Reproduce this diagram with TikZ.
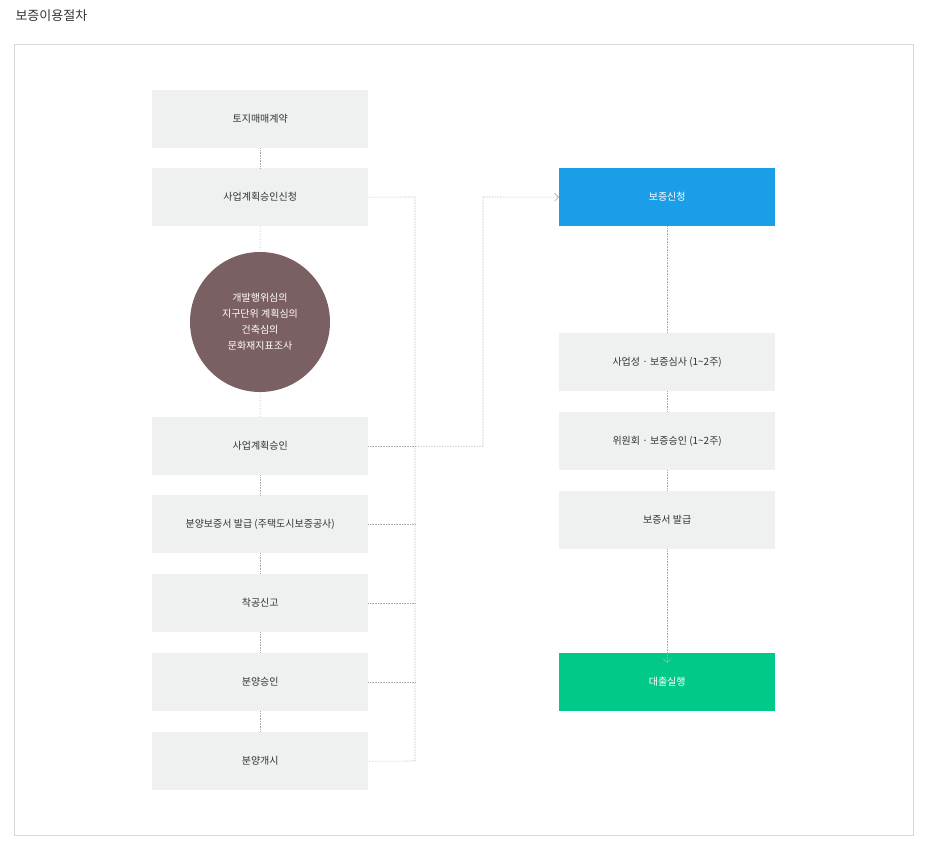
\documentclass[tikz,border=0pt]{standalone}
\usepackage{fontspec}
\setmainfont{Noto Sans CJK KR}
\usetikzlibrary{arrows.meta}
\definecolor{boxg}{HTML}{EFF0F0}
\definecolor{txt}{HTML}{333333}
\definecolor{blu}{HTML}{1A9EE8}
\definecolor{grn}{HTML}{00C98A}
\definecolor{circ}{HTML}{7A5F63}
\definecolor{ln}{HTML}{AAAAAA}
\begin{document}
\begin{tikzpicture}[x=1pt,y=-1pt,
  bx/.style={fill=boxg,minimum width=216pt,minimum height=58pt,inner sep=0pt,text=txt,font=\fontsize{10}{12}\selectfont,anchor=north west},
  dl/.style={draw=ln,densely dotted,line width=0.6pt},
  tip/.style={-{Straight Barb[length=4pt,width=8pt]}}]
\useasboundingbox (0,0) rectangle (940,848);
\node[anchor=west,font=\fontsize{13}{15}\selectfont,text=txt] (title) at (12,16) {보증이용절차};
\draw[draw=black!15,line width=0.8pt] (14,44) rectangle (913,835);
\node[bx] (a1) at (152,90) {토지매매계약};
\node[bx] (a2) at (152,168) {사업계획승인신청};
\node[circle,fill=circ,minimum size=140pt,inner sep=0pt,text=white,align=center,font=\fontsize{10}{16}\selectfont] (c) at (260,322) {개발행위심의\\지구단위 계획심의\\건축심의\\문화재지표조사};
\node[bx] (a3) at (152,417) {사업계획승인};
\node[bx] (a4) at (152,495) {분양보증서 발급 (주택도시보증공사)};
\node[bx] (a5) at (152,574) {착공신고};
\node[bx] (a6) at (152,653) {분양승인};
\node[bx] (a7) at (152,732) {분양개시};
\node[bx,fill=blu,text=white] (b1) at (559,168) {보증신청};
\node[bx] (b2) at (559,333) {사업성 · 보증심사 (1\textasciitilde 2주)};
\node[bx] (b3) at (559,412) {위원회 · 보증승인 (1\textasciitilde 2주)};
\node[bx] (b4) at (559,491) {보증서 발급};
\node[bx,fill=grn,text=white] (b5) at (559,653) {대출실행};
\draw[dl] (a1) -- (a2);
\draw[dl] (a2) -- (c);
\draw[dl] (c) -- (a3);
\draw[dl] (a3) -- (a4);
\draw[dl] (a4) -- (a5);
\draw[dl] (a5) -- (a6);
\draw[dl] (a6) -- (a7);
\coordinate (bt) at (415,197);
\coordinate (bb) at (415,761);
\draw[dl] (a2.east) -- (bt) -- (bb) -- (a7.east);
\foreach \n in {a3,a4,a5,a6}{\draw[dl] (\n.east) -- (\n.east -| bt);}
\draw[dl,tip] (a3.east -| bt) -| (483,197) -- (b1.west);
\draw[dl] (b1) -- (b2);
\draw[dl] (b2) -- (b3);
\draw[dl] (b3) -- (b4);
\draw[dl,tip] (b4.south) -- ([yshift=-10pt]b5.north);
\end{tikzpicture}
\end{document}
